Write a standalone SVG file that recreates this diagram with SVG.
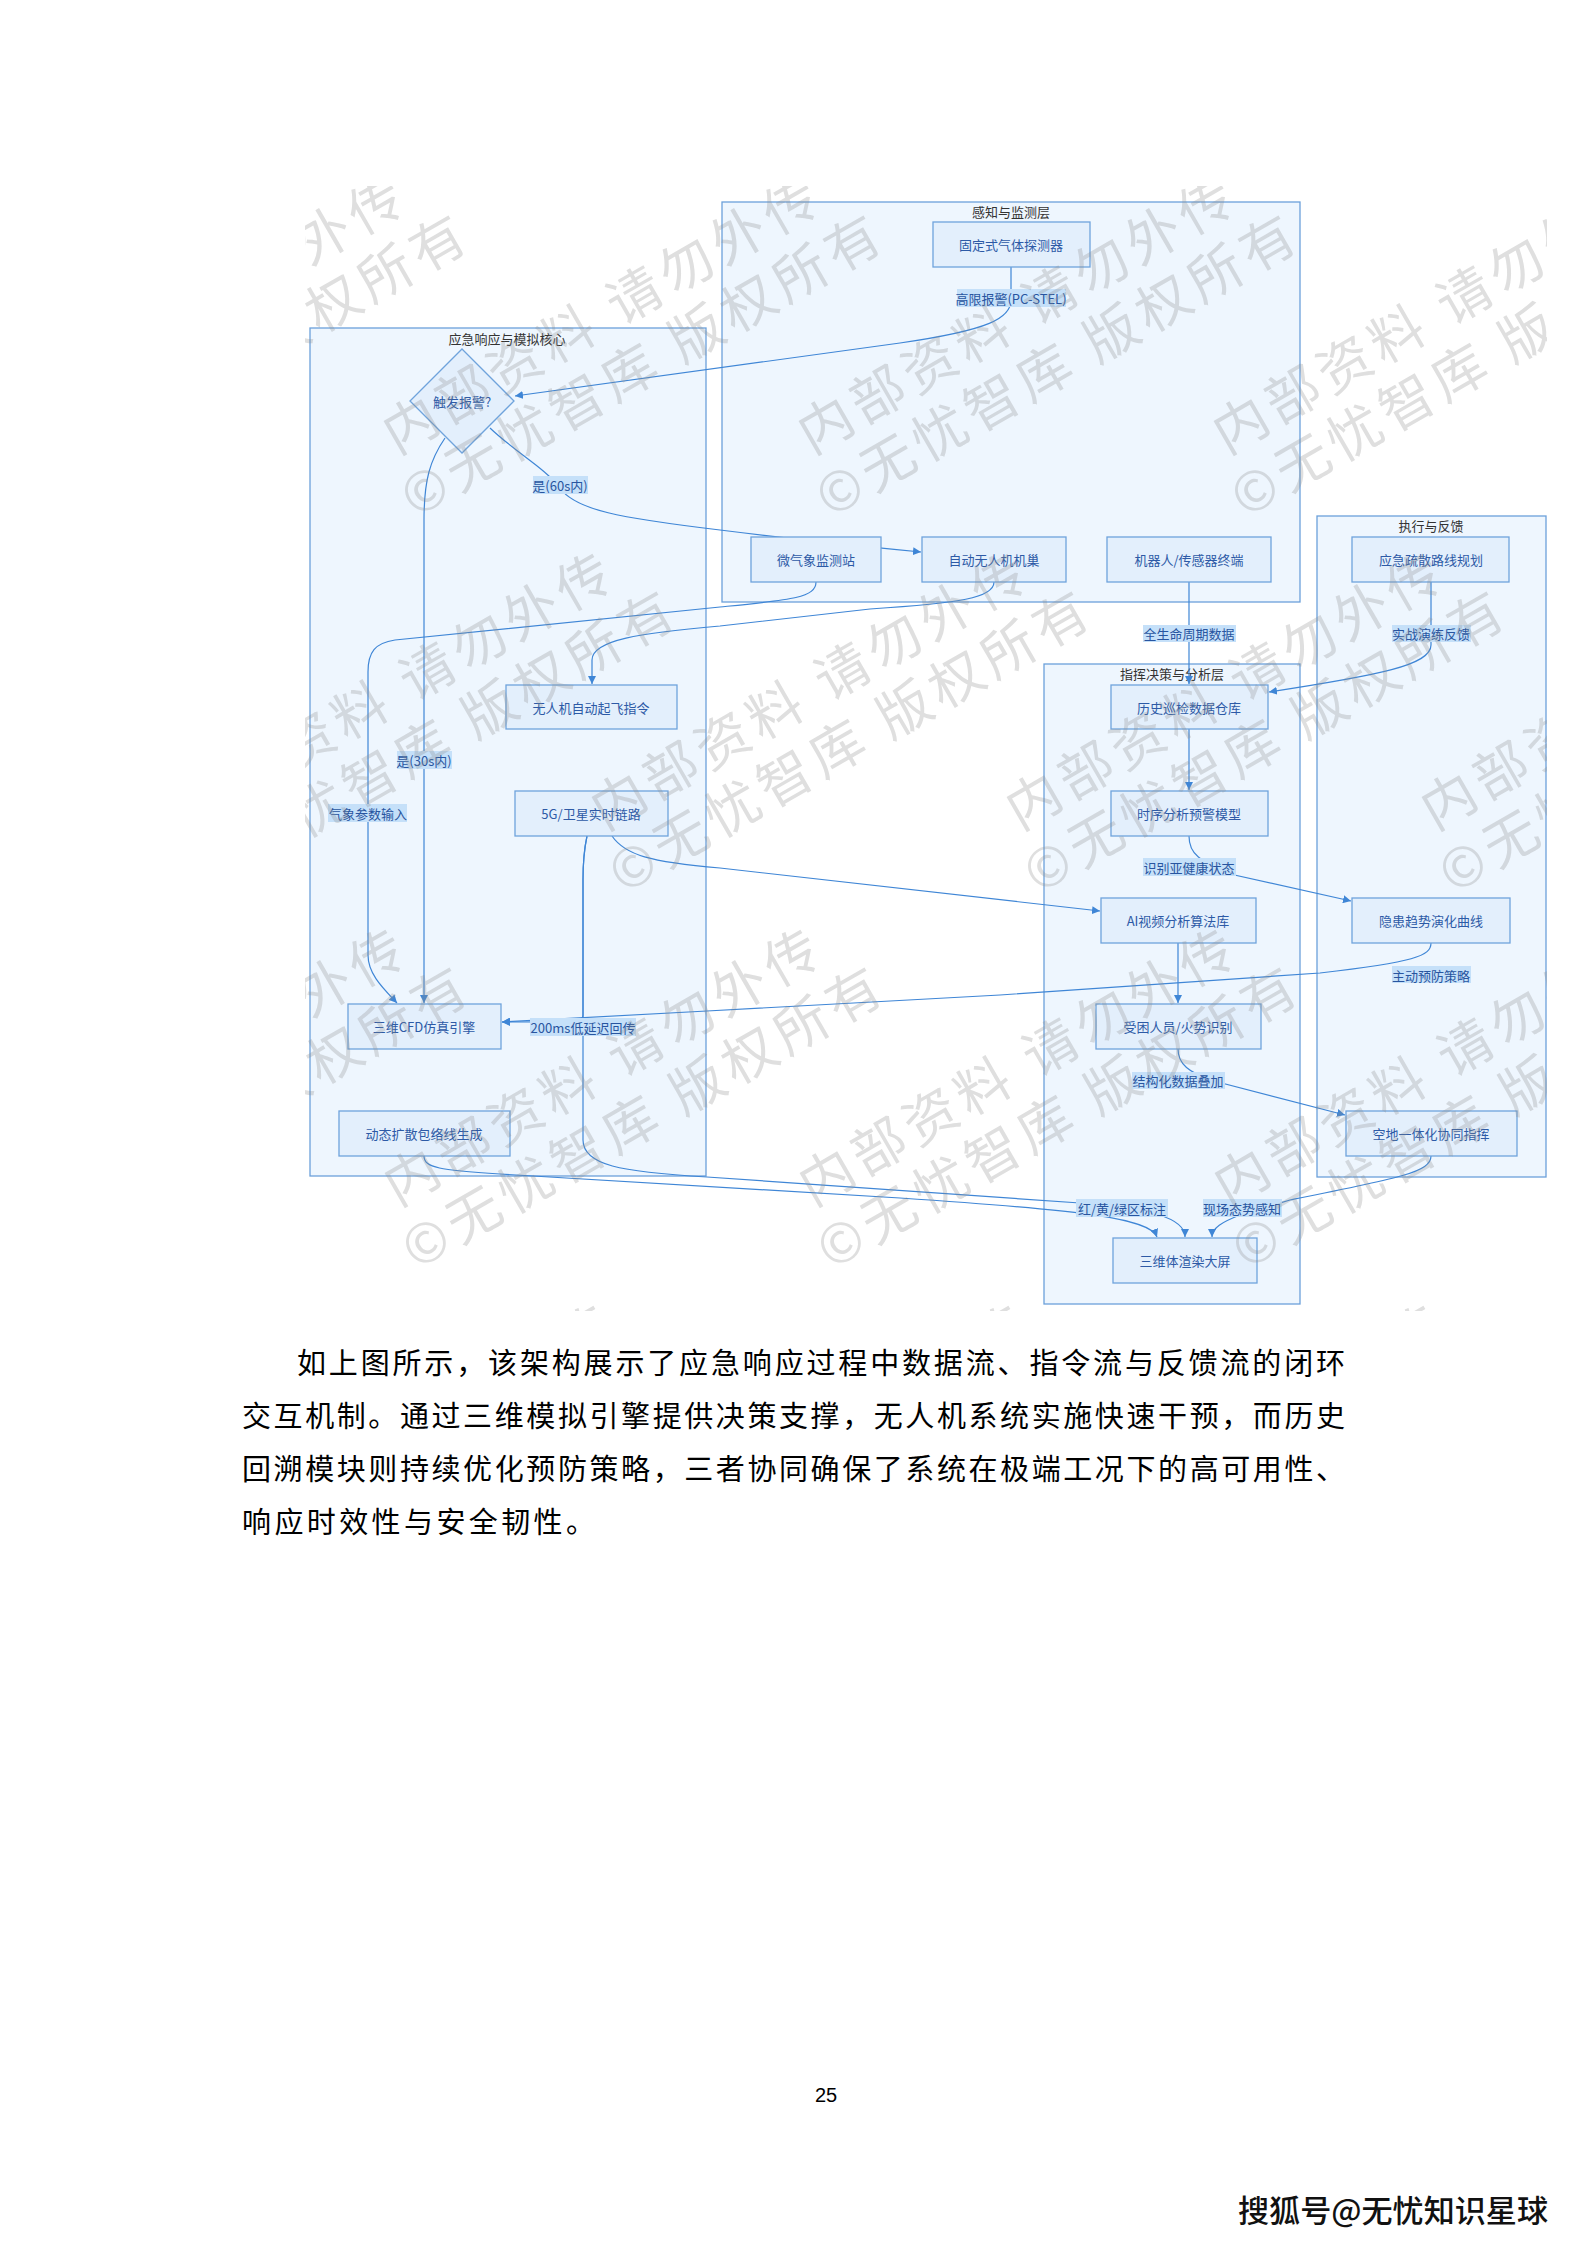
<svg xmlns="http://www.w3.org/2000/svg" xmlns:xlink="http://www.w3.org/1999/xlink" width="1587" height="2245" viewBox="0 0 1587 2245">
<style>
.cl rect{fill:#eef6fe;stroke:#6ca0da;stroke-width:1.3}
.cl text{font-family:"Noto Sans CJK SC","Noto Sans",sans-serif;font-size:13px;fill:#333;text-anchor:middle;dominant-baseline:central}
.nd rect,.nd polygon{fill:#e3effc;stroke:#6fa3dc;stroke-width:1.3}
.nd text{font-family:"Noto Sans CJK SC","Noto Sans",sans-serif;font-size:13px;fill:#2d5aa6;text-anchor:middle;dominant-baseline:central}
.edges path{fill:none;stroke:#3f86d6;stroke-width:1.2}
.el rect{fill:#c5e0f9}
.el text{font-family:"Noto Sans CJK SC","Noto Sans",sans-serif;font-size:13px;fill:#2855a0;text-anchor:middle;dominant-baseline:central}
.para{font-family:"Noto Sans CJK SC",sans-serif;font-size:29px;fill:#000}
</style>
<defs>
<marker id="ah" viewBox="0 0 10 10" refX="10" refY="5" markerWidth="8" markerHeight="8" markerUnits="userSpaceOnUse" orient="auto">
<path d="M0,0 L10,5 L0,10 z" fill="#3f86d6"/>
</marker>
<g id="wmt" transform="rotate(-30)" font-family="Noto Sans CJK SC, sans-serif" font-size="54" fill="#8c8c8c" letter-spacing="6">
<text x="0" y="0">内部资料 请勿外传</text>
<text x="-16" y="64">©无忧智库 版权所有</text>
</g>
<clipPath id="imgclip"><rect x="305" y="186" width="1242" height="1125"/></clipPath>
</defs>
<rect width="1587" height="2245" fill="#fff"/>

<g id="clusters" class="cl">
<g id="c-sense"><rect x="722" y="202" width="578" height="400"/><text x="1011" y="211">感知与监测层</text></g>
<g id="c-core"><rect x="310" y="328" width="396" height="848"/><text x="507" y="338">应急响应与模拟核心</text></g>
<g id="c-exec"><rect x="1317" y="516" width="229" height="661"/><text x="1431" y="525">执行与反馈</text></g>
<g id="c-cmd"><rect x="1044" y="664" width="256" height="640"/><text x="1172" y="673">指挥决策与分析层</text></g>
</g>

<g id="connectors" class="edges">
<path marker-end="url(#ah)" d="M1011,267 V300 C1011,318 990,330 900,343 L515,396"/>
<path marker-end="url(#ah)" d="M490,428 C515,452 545,468 560,488 C575,510 620,518 720,530 C800,540 850,545 921,552"/>
<path marker-end="url(#ah)" d="M445,438 C430,460 424,480 424,520 L424,1003"/>
<path marker-end="url(#ah)" d="M816,582 C816,598 790,600 720,607 L395,640 C375,643 368,652 368,672 L368,955 C368,975 385,990 397,1003"/>
<path marker-end="url(#ah)" d="M994,582 C994,598 960,603 870,609 L720,626 C640,633 592,640 592,660 L592,684"/>
<path marker-end="url(#ah)" d="M1189,582 L1189,684"/>
<path marker-end="url(#ah)" d="M1431,582 V645 C1431,665 1380,675 1269,692"/>
<path marker-end="url(#ah)" d="M1189,729 V790"/>
<path marker-end="url(#ah)" d="M1189,836 C1189,855 1200,860 1230,874 L1351,901"/>
<path marker-end="url(#ah)" d="M612,836 C625,855 650,862 720,868 L1100,911"/>
<path marker-end="url(#ah)" d="M1178,943 V1003"/>
<path marker-end="url(#ah)" d="M1178,1049 C1178,1065 1190,1072 1210,1080 L1345,1115"/>
<path marker-end="url(#ah)" d="M1431,943 C1431,956 1415,962 1320,973 L1000,995 L707,1011 L502,1022"/>
<path marker-end="url(#ah)" d="M587,836 C584,850 583,860 583,880 L583,1015 C583,1022 575,1022 502,1022"/>
<path marker-end="url(#ah)" d="M587,836 C584,850 583,860 583,880 L583,1140 C583,1165 620,1172 707,1177 L1080,1203 C1150,1208 1185,1218 1185,1237"/>
<path marker-end="url(#ah)" d="M424,1156 C424,1168 440,1170 500,1174 L900,1198 C1080,1210 1150,1218 1157,1237"/>
<path marker-end="url(#ah)" d="M1431,1156 C1431,1172 1400,1178 1290,1200 L1240,1215 C1222,1222 1212,1228 1212,1237"/>
</g>

<g id="edge-labels" class="el">
<g><rect x="957" y="289" width="109" height="18"/><text x="1011" y="298">高限报警(PC-STEL)</text></g>
<g><rect x="533" y="476" width="55" height="18"/><text x="560" y="485">是(60s内)</text></g>
<g><rect x="397" y="751" width="55" height="18"/><text x="424" y="760">是(30s内)</text></g>
<g><rect x="328" y="804" width="79" height="18"/><text x="368" y="813">气象参数输入</text></g>
<g><rect x="530" y="1018" width="106" height="18"/><text x="583" y="1027">200ms低延迟回传</text></g>
<g><rect x="1143" y="625" width="93" height="17"/><text x="1189" y="633">全生命周期数据</text></g>
<g><rect x="1392" y="625" width="79" height="17"/><text x="1431" y="633">实战演练反馈</text></g>
<g><rect x="1143" y="858" width="93" height="18"/><text x="1189" y="867">识别亚健康状态</text></g>
<g><rect x="1392" y="966" width="79" height="17"/><text x="1431" y="975">主动预防策略</text></g>
<g><rect x="1132" y="1072" width="93" height="17"/><text x="1178" y="1080">结构化数据叠加</text></g>
<g><rect x="1076" y="1199" width="92" height="18"/><text x="1122" y="1208">红/黄/绿区标注</text></g>
<g><rect x="1203" y="1199" width="79" height="18"/><text x="1242" y="1208">现场态势感知</text></g>
</g>

<g id="nodes" class="nd">
<g id="n-gas"><rect x="933" y="222" width="157" height="45"/><text x="1011" y="244">固定式气体探测器</text></g>
<g id="n-met"><rect x="751" y="537" width="130" height="45"/><text x="816" y="559">微气象监测站</text></g>
<g id="n-nest"><rect x="922" y="537" width="144" height="45"/><text x="994" y="559">自动无人机机巢</text></g>
<g id="n-robot"><rect x="1107" y="537" width="164" height="45"/><text x="1189" y="559">机器人/传感器终端</text></g>
<g id="n-alarm"><polygon points="462,349 514,401 462,453 410,401"/><text x="462" y="401">触发报警?</text></g>
<g id="n-takeoff"><rect x="506" y="685" width="171" height="44"/><text x="591" y="707">无人机自动起飞指令</text></g>
<g id="n-5g"><rect x="515" y="791" width="153" height="45"/><text x="591" y="813">5G/卫星实时链路</text></g>
<g id="n-cfd"><rect x="348" y="1004" width="153" height="45"/><text x="424" y="1026">三维CFD仿真引擎</text></g>
<g id="n-env"><rect x="339" y="1111" width="171" height="45"/><text x="424" y="1133">动态扩散包络线生成</text></g>
<g id="n-hist"><rect x="1111" y="685" width="157" height="44"/><text x="1189" y="707">历史巡检数据仓库</text></g>
<g id="n-ts"><rect x="1111" y="791" width="157" height="45"/><text x="1189" y="813">时序分析预警模型</text></g>
<g id="n-ai"><rect x="1101" y="898" width="155" height="45"/><text x="1178" y="920">AI视频分析算法库</text></g>
<g id="n-trap"><rect x="1096" y="1004" width="165" height="45"/><text x="1178" y="1026">受困人员/火势识别</text></g>
<g id="n-3d"><rect x="1113" y="1238" width="144" height="45"/><text x="1185" y="1260">三维体渲染大屏</text></g>
<g id="n-evac"><rect x="1352" y="537" width="157" height="45"/><text x="1431" y="559">应急疏散路线规划</text></g>
<g id="n-trend"><rect x="1352" y="898" width="158" height="45"/><text x="1431" y="920">隐患趋势演化曲线</text></g>
<g id="n-air"><rect x="1346" y="1111" width="171" height="45"/><text x="1431" y="1133">空地一体化协同指挥</text></g>
</g>

<g id="watermark" clip-path="url(#imgclip)" opacity="0.28">
<use xlink:href="#wmt" x="189" y="79"/><use xlink:href="#wmt" x="604" y="79"/><use xlink:href="#wmt" x="1019" y="79"/><use xlink:href="#wmt" x="1434" y="79"/>
<use xlink:href="#wmt" x="-18" y="455"/><use xlink:href="#wmt" x="397" y="455"/><use xlink:href="#wmt" x="812" y="455"/><use xlink:href="#wmt" x="1227" y="455"/>
<use xlink:href="#wmt" x="-225" y="831"/><use xlink:href="#wmt" x="190" y="831"/><use xlink:href="#wmt" x="605" y="831"/><use xlink:href="#wmt" x="1020" y="831"/><use xlink:href="#wmt" x="1435" y="831"/>
<use xlink:href="#wmt" x="-17" y="1207"/><use xlink:href="#wmt" x="398" y="1207"/><use xlink:href="#wmt" x="813" y="1207"/><use xlink:href="#wmt" x="1228" y="1207"/>
<use xlink:href="#wmt" x="-224" y="1583"/><use xlink:href="#wmt" x="191" y="1583"/><use xlink:href="#wmt" x="606" y="1583"/><use xlink:href="#wmt" x="1021" y="1583"/><use xlink:href="#wmt" x="1436" y="1583"/>
</g>

<g id="page-text">
<text class="para" x="297" y="1374" textLength="1048" lengthAdjust="spacing">如上图所示，该架构展示了应急响应过程中数据流、指令流与反馈流的闭环</text>
<text class="para" x="242" y="1427" textLength="1103" lengthAdjust="spacing">交互机制。通过三维模拟引擎提供决策支撑，无人机系统实施快速干预，而历史</text>
<text class="para" x="242" y="1480" textLength="1103" lengthAdjust="spacing">回溯模块则持续优化预防策略，三者协同确保了系统在极端工况下的高可用性、</text>
<text class="para" x="242" y="1533" style="letter-spacing:3.4px">响应时效性与安全韧性。</text>
<text x="826" y="2102" font-family="Liberation Sans, Arial, sans-serif" font-size="20" fill="#000" text-anchor="middle">25</text>
<text x="1238" y="2222" font-family="Noto Sans CJK SC, sans-serif" font-size="31" font-weight="500" fill="#111" stroke="#fff" stroke-width="1.5" paint-order="stroke" textLength="310" lengthAdjust="spacingAndGlyphs">搜狐号@无忧知识星球</text>
</g>
</svg>
